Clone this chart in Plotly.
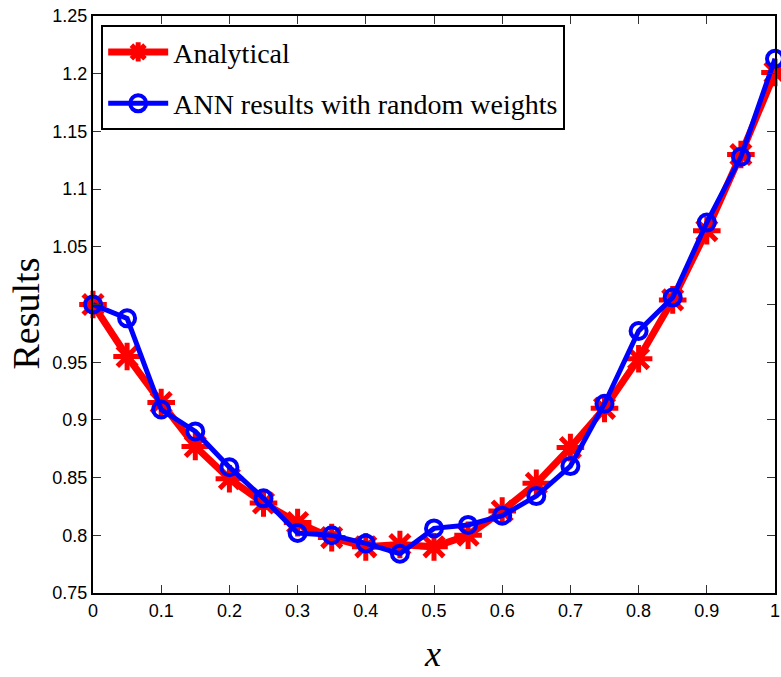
import plotly.graph_objects as go

x_vals = [0, 0.05, 0.1, 0.15, 0.2, 0.25, 0.3, 0.35, 0.4, 0.45, 0.5,
          0.55, 0.6, 0.65, 0.7, 0.75, 0.8, 0.85, 0.9, 0.95, 1.0]
analytical = [1.000, 0.955, 0.915, 0.877, 0.849, 0.828, 0.811, 0.798, 0.790, 0.792, 0.790,
              0.800, 0.821, 0.845, 0.876, 0.910, 0.953, 1.004, 1.064, 1.130, 1.201]
ann_random = [1.000, 0.988, 0.909, 0.890, 0.859, 0.832, 0.802, 0.800, 0.793, 0.784, 0.806,
              0.809, 0.817, 0.834, 0.860, 0.914, 0.977, 1.006, 1.071, 1.128, 1.213]

y_tickvals = [0.75, 0.8, 0.85, 0.9, 0.95, 1.0, 1.05, 1.1, 1.15, 1.2, 1.25]
y_ticktext = ["0.75", "0.8", "0.85", "0.9", "0.95", "", "1.05", "1.1", "1.15", "1.2", "1.25"]
x_tickvals = [0, 0.1, 0.2, 0.3, 0.4, 0.5, 0.6, 0.7, 0.8, 0.9, 1.0]
x_ticktext = ["0", "0.1", "0.2", "0.3", "0.4", "0.5", "0.6", "0.7", "0.8", "0.9", "1"]

fig = go.Figure()
fig.add_trace(go.Scatter(
    x=x_vals, y=analytical, name="Analytical", mode="lines+markers",
    legendgroup="a",
    line=dict(color="#ff0000", width=7),
    marker=dict(symbol="asterisk", size=23, color="#ff0000",
                line=dict(color="#ff0000", width=5)),
    cliponaxis=False,
))
fig.add_trace(go.Scatter(
    x=x_vals, y=ann_random, name="ANN results with random weights", mode="lines+markers",
    legendgroup="b",
    line=dict(color="#0000ff", width=5),
    marker=dict(symbol="circle-open", size=16, color="#0000ff",
                line=dict(color="#0000ff", width=4)),
    cliponaxis=False,
))

axis_common = dict(
    showline=True, linecolor="black", linewidth=2, mirror="allticks",
    ticks="inside", ticklen=8, tickwidth=1, tickcolor="#333333",
    showgrid=False, zeroline=False, ticklabeloverflow="allow",
    tickfont=dict(family="Liberation Sans, Arial", size=18, color="black"),
)

W, H = 781, 677
L, R, T, B = 93, 1, 16, 84
pw = W - L - R
ph = H - T - B

fig.update_layout(
    width=W, height=H,
    margin=dict(l=L, r=R, t=T, b=B),
    paper_bgcolor="white", plot_bgcolor="white",
    xaxis=dict(range=[0, 1], tickvals=x_tickvals, ticktext=x_ticktext, **axis_common),
    yaxis=dict(range=[0.75, 1.25], tickvals=y_tickvals, ticktext=y_ticktext, **axis_common),
    legend=dict(
        x=0.012, y=0.984, xanchor="left", yanchor="top",
        bgcolor="white", bordercolor="black", borderwidth=2,
        font=dict(family="Liberation Serif, Times New Roman", size=28, color="black"),
        tracegroupgap=12, itemwidth=60,
    ),
    showlegend=True,
    annotations=[
        dict(text="Results", xref="paper", yref="paper",
             x=(26 - L) / pw, y=1 - (313 - T) / ph, textangle=-90, showarrow=False,
             xanchor="center", yanchor="middle",
             font=dict(family="Liberation Serif, Times New Roman", size=38, color="black")),
        dict(text="<i>x</i>", xref="paper", yref="paper",
             x=(435 - L) / pw, y=-(654 - (H - B)) / ph, showarrow=False,
             xanchor="center", yanchor="middle",
             font=dict(family="Liberation Serif, Times New Roman", size=36, color="black")),
    ],
)

fig.write_html(
    "out.html",
    config={"displayModeBar": False},
    post_script="document.body.style.margin='0px';document.body.style.overflow='hidden';",
)
